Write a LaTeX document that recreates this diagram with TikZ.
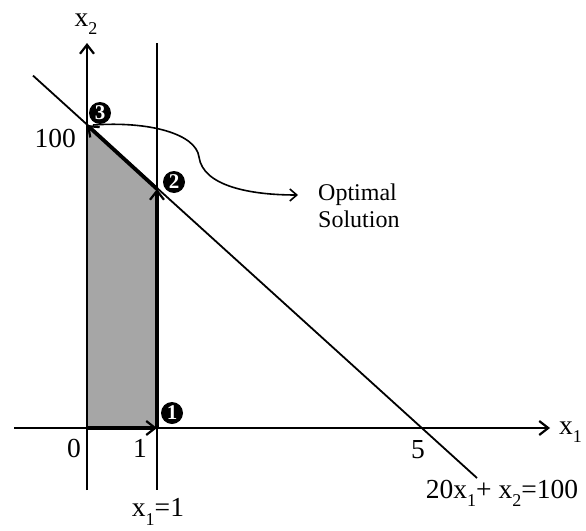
\documentclass[tikz,border=0pt]{standalone}
\usepackage{fontspec}
\setmainfont{Liberation Serif}
\usetikzlibrary{arrows.meta}
\newcommand{\lsub}[1]{\raisebox{-0.3em}{\fontsize{18}{18}\selectfont #1}}
\definecolor{regiongray}{RGB}{166,166,166}
\begin{document}
\begin{tikzpicture}[x=1pt,y=-1pt,
  lbl/.style={font=\fontsize{27.5}{29}\selectfont, inner sep=0pt},
  axisline/.style={line width=2.6pt},
  thinline/.style={line width=1.8pt},
  pathline/.style={line width=3.8pt},
  tip/.style={-{Straight Barb[length=9pt,width=14pt,line width=2.2pt]}},
  vtx/.style={circle, fill=black, text=white, inner sep=0pt, minimum size=22pt,
    font=\fontsize{21}{21}\selectfont\bfseries}]
\useasboundingbox (0,0) rectangle (586,530);
% key points
\coordinate (O) at (87,428);
\coordinate (P1) at (157,428);
\coordinate (P2) at (157,189);
\coordinate (P3) at (87,125);
\coordinate (Ybot) at (87,490);
\coordinate (Ytop) at (87,43);
\coordinate (Xl) at (14,428);
\coordinate (Xr) at (550,428);
\coordinate (Vtop) at (157,43);
\coordinate (Vbot) at (157,490);
\coordinate (Ds) at (33,75.6);
\coordinate (De) at (477,478);
\coordinate (Ce) at (298,195);
% feasible region
\fill[regiongray] (O) -- (P1) -- (P2) -- (P3) -- cycle;
% lines
\draw[thinline] (Ds) -- (De);
\draw[axisline] (Vtop) -- (Vbot);
\draw[axisline, tip] (Ybot) -- (Ytop);
\draw[axisline, tip] (Xl) -- (Xr);
% simplex path
\draw[pathline, tip] (O) -- (P1);
\draw[pathline, tip] (P1) -- (P2);
\draw[pathline, tip] (P2) -- (P3);
% vertex markers
\node[vtx] (v1) at (172,413) {1};
\node[vtx] (v2) at (174,182) {2};
\node[vtx] (v3) at (100,113) {3};
% callout curve
\draw[line width=1.6pt, -{Straight Barb[length=7pt,width=12pt,line width=1.6pt]}]
  (93,125) .. controls (150,121) and (196,134) .. (199,157)
  .. controls (203,186) and (250,195) .. (Ce);
\node[font=\fontsize{24}{27}\selectfont, align=left, anchor=north west, inner sep=0pt] (opt) at (318,184) {Optimal\\Solution};
% labels
\node[lbl] (lx2) at (86,24) {x\lsub{2}};
\node[lbl, anchor=east] (l100) at (76,138) {100};
\node[lbl] (l0) at (74,448) {0};
\node[lbl] (l1) at (140,448) {1};
\node[lbl] (l5) at (418,450) {5};
\node[lbl, anchor=west] (lx1) at (559,432) {x\lsub{1}};
\node[lbl] (lv) at (158,512) {x\lsub{1}=1};
\node[lbl] (leq) at (502,493) {20x\lsub{1}+ x\lsub{2}=100};
\end{tikzpicture}
\end{document}
